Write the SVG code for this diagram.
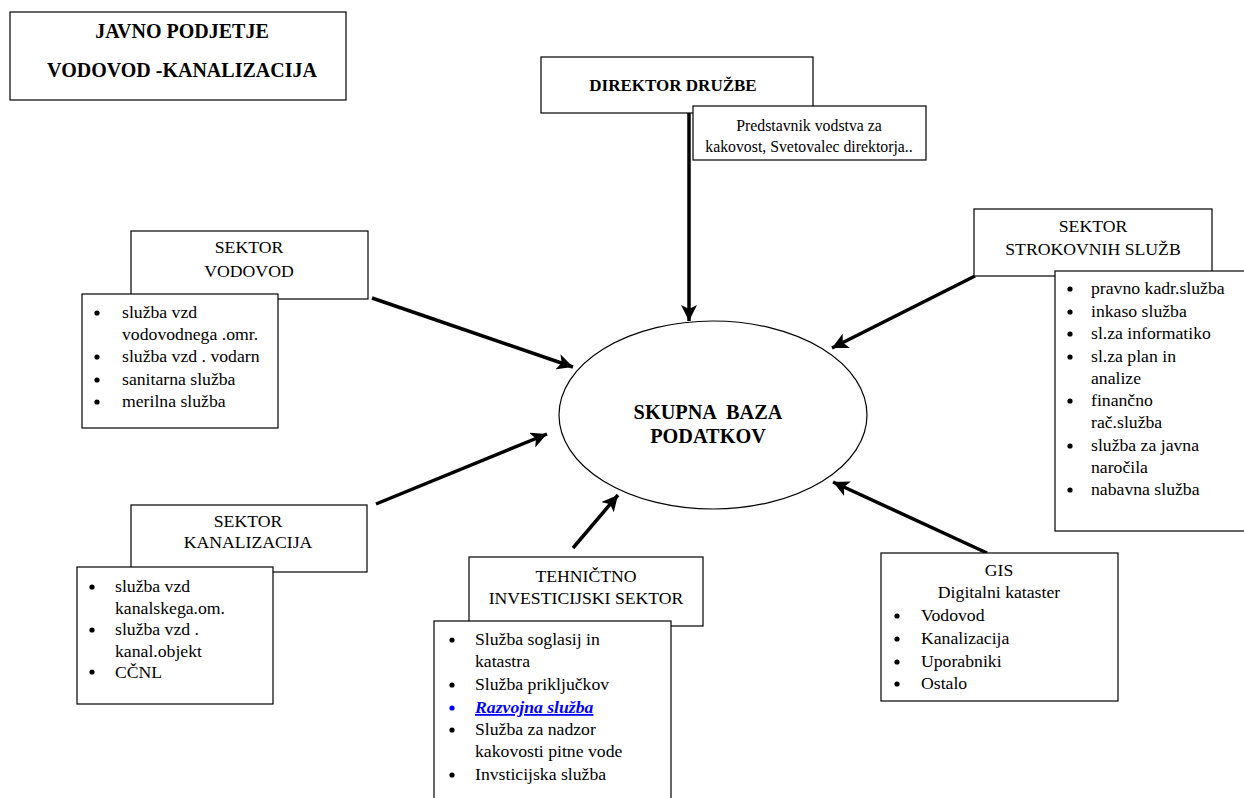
<svg xmlns="http://www.w3.org/2000/svg" width="1244" height="798" viewBox="0 0 1244 798">
<defs>
<style>
.box{fill:#fff;stroke:#000;stroke-width:1.2}
.t{font-family:'Liberation Serif','Times New Roman','DejaVu Serif',serif;font-size:17.7px;fill:#000}
.c{text-anchor:middle}
.b{font-weight:bold}
.conn line{stroke:#000;stroke-width:3.5;marker-end:url(#ah)}
.dot{fill:#000}
</style>
<marker id="ah" markerUnits="userSpaceOnUse" markerWidth="18" markerHeight="16" refX="16" refY="8" orient="auto">
<path d="M0,0 L16,8 L0,16 L4,8 Z" fill="#000"/>
</marker>
</defs>
<rect width="1244" height="798" fill="#fff"/>

<g id="title">
<rect class="box" x="10" y="12" width="336" height="88"/>
<text class="t c b" x="182" y="38" font-family="Liberation Serif, serif" style="font-size:20px">JAVNO PODJETJE</text>
<text class="t c b" x="182" y="77" style="font-size:20px">VODOVOD -KANALIZACIJA</text>
</g>

<g id="conns" class="conn">
<line x1="689" y1="113" x2="689" y2="321"/>
<line x1="372" y1="298" x2="573" y2="367"/>
<line x1="975" y1="276" x2="832" y2="348"/>
<line x1="376" y1="504" x2="547" y2="434"/>
<line x1="573" y1="548" x2="618" y2="495"/>
<line x1="987" y1="553" x2="833" y2="482"/>
</g>

<g id="baza">
<ellipse cx="713" cy="415" rx="154" ry="94" fill="#fff" stroke="#000" stroke-width="1.2"/>
<text class="t c b" x="708" y="419" style="font-size:20.3px;white-space:pre">SKUPNA  BAZA</text>
<text class="t c b" x="708" y="443" style="font-size:20.3px">PODATKOV</text>
</g>

<g id="direktor">
<rect class="box" x="541" y="57" width="272" height="56"/>
<text class="t c b" x="673" y="91" style="font-size:17px">DIREKTOR DRUŽBE</text>
<rect class="box" x="693" y="106" width="233" height="54"/>
<text class="t c" x="809" y="131" style="font-size:15.8px">Predstavnik vodstva za</text>
<text class="t c" x="809" y="152" style="font-size:15.8px">kakovost, Svetovalec direktorja..</text>
</g>

<g id="vodovod">
<rect class="box" x="131" y="231" width="237" height="68"/>
<text class="t c" x="249" y="253">SEKTOR</text>
<text class="t c" x="249" y="277">VODOVOD</text>
<rect class="box" x="82" y="294" width="196" height="134"/>
<circle class="dot" cx="97" cy="313" r="2.6"/>
<circle class="dot" cx="97" cy="357" r="2.6"/>
<circle class="dot" cx="97" cy="380" r="2.6"/>
<circle class="dot" cx="97" cy="402" r="2.6"/>
<text class="t" x="122" y="318">služba vzd</text>
<text class="t" x="122" y="340">vodovodnega .omr.</text>
<text class="t" x="122" y="362">služba vzd . vodarn</text>
<text class="t" x="122" y="385">sanitarna služba</text>
<text class="t" x="122" y="407">merilna služba</text>
</g>

<g id="strokovne">
<rect class="box" x="974" y="209" width="238" height="67"/>
<text class="t c" x="1093" y="232">SEKTOR</text>
<text class="t c" x="1093" y="255">STROKOVNIH SLUŽB</text>
<rect class="box" x="1055" y="271" width="200" height="260"/>
<circle class="dot" cx="1070" cy="289" r="2.6"/>
<circle class="dot" cx="1070" cy="312" r="2.6"/>
<circle class="dot" cx="1070" cy="334" r="2.6"/>
<circle class="dot" cx="1070" cy="357" r="2.6"/>
<circle class="dot" cx="1070" cy="401" r="2.6"/>
<circle class="dot" cx="1070" cy="446" r="2.6"/>
<circle class="dot" cx="1070" cy="490" r="2.6"/>
<text class="t" x="1091" y="294">pravno kadr.služba</text>
<text class="t" x="1091" y="317">inkaso služba</text>
<text class="t" x="1091" y="339">sl.za informatiko</text>
<text class="t" x="1091" y="362">sl.za plan in</text>
<text class="t" x="1091" y="384">analize</text>
<text class="t" x="1091" y="406">finančno</text>
<text class="t" x="1091" y="428">rač.služba</text>
<text class="t" x="1091" y="451">služba za javna</text>
<text class="t" x="1091" y="473">naročila</text>
<text class="t" x="1091" y="495">nabavna služba</text>
</g>

<g id="kanalizacija">
<rect class="box" x="131" y="505" width="236" height="67"/>
<text class="t c" x="248" y="527">SEKTOR</text>
<text class="t c" x="248" y="548">KANALIZACIJA</text>
<rect class="box" x="77" y="567" width="196" height="137"/>
<circle class="dot" cx="92" cy="587" r="2.6"/>
<circle class="dot" cx="92" cy="630" r="2.6"/>
<circle class="dot" cx="92" cy="672" r="2.6"/>
<text class="t" x="115" y="592">služba vzd</text>
<text class="t" x="115" y="614">kanalskega.om.</text>
<text class="t" x="115" y="635">služba vzd .</text>
<text class="t" x="115" y="657">kanal.objekt</text>
<text class="t" x="115" y="678">CČNL</text>
</g>

<g id="tehnicni">
<rect class="box" x="469" y="557" width="234" height="69"/>
<text class="t c" x="586" y="582">TEHNIČTNO</text>
<text class="t c" x="586" y="604">INVESTICIJSKI SEKTOR</text>
<rect class="box" x="434" y="621" width="237" height="200"/>
<circle class="dot" cx="452" cy="640" r="2.6"/>
<circle class="dot" cx="452" cy="685" r="2.6"/>
<circle cx="452" cy="708" r="2.6" fill="#0000ff"/>
<circle class="dot" cx="452" cy="730" r="2.6"/>
<circle class="dot" cx="452" cy="775" r="2.6"/>
<text class="t" x="475" y="645">Služba soglasij in</text>
<text class="t" x="475" y="667">katastra</text>
<text class="t" x="475" y="690">Služba priključkov</text>
<text class="t b" x="475" y="713" style="font-style:italic;fill:#0000ff;text-decoration:underline">Razvojna služba</text>
<text class="t" x="475" y="735">Služba za nadzor</text>
<text class="t" x="475" y="757">kakovosti pitne vode</text>
<text class="t" x="475" y="780">Invsticijska služba</text>
</g>

<g id="gis">
<rect class="box" x="881" y="553" width="237" height="148"/>
<text class="t c" x="999" y="576">GIS</text>
<text class="t c" x="999" y="598">Digitalni kataster</text>
<circle class="dot" cx="897" cy="616" r="2.6"/>
<circle class="dot" cx="897" cy="639" r="2.6"/>
<circle class="dot" cx="897" cy="662" r="2.6"/>
<circle class="dot" cx="897" cy="684" r="2.6"/>
<text class="t" x="921" y="621">Vodovod</text>
<text class="t" x="921" y="644">Kanalizacija</text>
<text class="t" x="921" y="667">Uporabniki</text>
<text class="t" x="921" y="689">Ostalo</text>
</g>
</svg>
